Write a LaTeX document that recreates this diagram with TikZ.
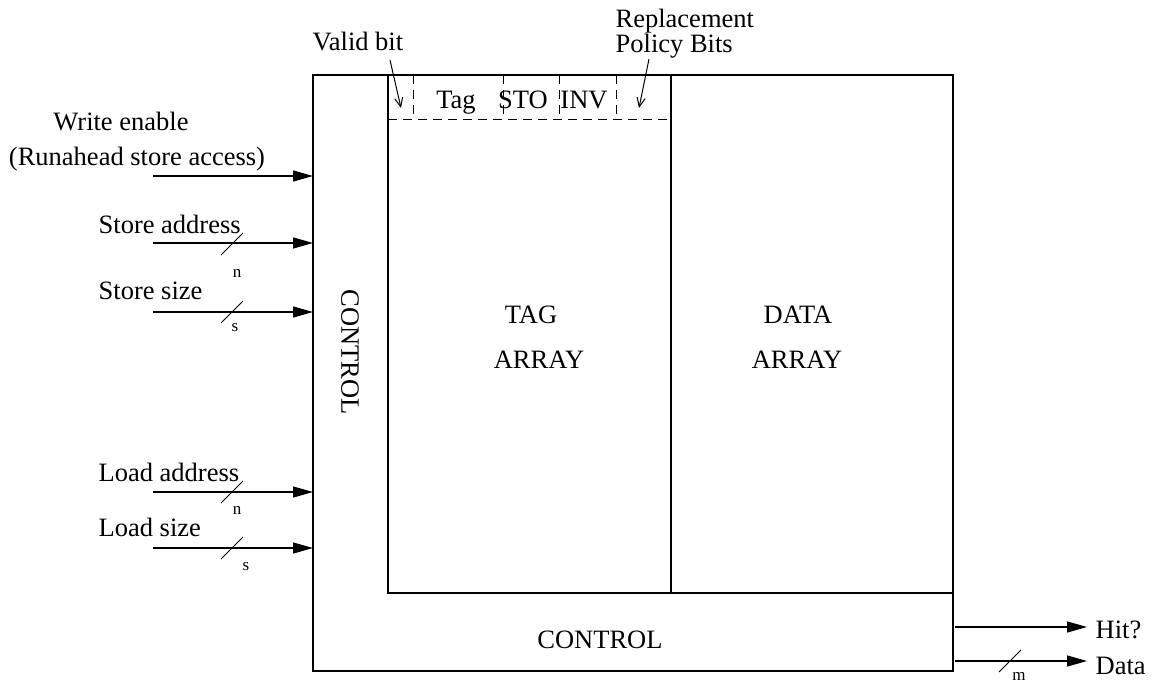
\documentclass[tikz,border=0pt]{standalone}
\usepackage{fontspec}
\setmainfont{Liberation Serif}
\usetikzlibrary{arrows.meta,calc}

\begin{document}
\begin{tikzpicture}[x=1pt,y=-1pt,line width=1.3pt,
  lbl/.style={font=\fontsize{26.5}{28}\selectfont,inner sep=0pt,anchor=base},
  sm/.style={font=\fontsize{17}{18}\selectfont,inner sep=0pt},
  sig/.style={-{Triangle[length=20pt,width=11pt]}},
  tick/.style={line width=1pt},
  ptr/.style={-{Straight Barb[length=9pt,width=8pt]},line width=1pt},
  dsh/.style={dash pattern=on 9pt off 6pt,line width=1pt}]
\useasboundingbox (0,0) rectangle (1154,683);

% cache outline
\node[draw,minimum width=640pt,minimum height=596pt,anchor=north west,
      inner sep=0pt,outer sep=0pt] (box) at (313,75) {};
% tag array / data array partition and bottom control strip
\coordinate (tl) at (388,75);
\coordinate (tc) at (388,593);
\coordinate (dl) at (671,75);
\coordinate (db) at (671,593);
\draw (tl) -- (tc) -- (tc -| box.east);
\draw (dl) -- (db);

% tag entry fields
\draw[dsh] (388,119) -- (671,119);
\foreach \x in {413,503,559,616} \draw[dsh] (\x,75) -- (\x,119);
\node[lbl] (ftag) at (456,108) {Tag};
\node[lbl] (fsto) at (523,108) {STO};
\node[lbl] (finv) at (584,108) {INV};

% field annotations
\node[lbl,anchor=base west] (valid) at (312,50) {Valid bit};
\node[lbl,anchor=base west] (repl1) at (615,27) {Replacement};
\node[lbl,anchor=base west] (repl2) at (615,52) {Policy Bits};
\coordinate (va) at (390,60);
\coordinate (vb) at (401,108);
\coordinate (ra) at (649,59);
\coordinate (rb) at (639,108);
\draw[ptr] (va) -- (vb);
\draw[ptr] (ra) -- (rb);

% block labels
\node[lbl] (tag1) at (531,323) {TAG};
\node[lbl] (tag2) at (539,368) {ARRAY};
\node[lbl] (dat1) at (798,323) {DATA};
\node[lbl] (dat2) at (797,368) {ARRAY};
\node[lbl,anchor=center,rotate=-90] (ctlv) at (350,352) {CONTROL};
\node[lbl] (ctlh) at (600,648) {CONTROL};

% inputs
\node[lbl] (we1) at (121,130) {Write enable};
\node[lbl] (we2) at (137,165) {(Runahead store access)};
\node[lbl,anchor=base west] (sa) at (98,233) {Store address};
\node[lbl,anchor=base west] (ss) at (98,299) {Store size};
\node[lbl,anchor=base west] (la) at (98,481) {Load address};
\node[lbl,anchor=base west] (ls) at (98,536) {Load size};

\coordinate (iwe) at (153,176);
\coordinate (isa) at (153,243);
\coordinate (iss) at (153,312);
\coordinate (ila) at (153,492);
\coordinate (ils) at (153,548);
\foreach \c in {iwe,isa,iss,ila,ils}
  \draw[sig] (\c) -- (\c -| box.west);

% bus width ticks
\foreach \c/\y in {tsa/244,tss/312,tla/492,tls/548}
  \coordinate (\c) at (232,\y);
\foreach \c in {tsa,tss,tla,tls}
  \draw[tick] ($(\c)+(-11,11)$) -- ($(\c)+(11,-11)$);
\node[sm] (wn1) at (237,273) {n};
\node[sm] (ws1) at (235,328) {s};
\node[sm] (wn2) at (237,510) {n};
\node[sm] (ws2) at (246,567) {s};

% outputs
\coordinate (ohit) at (955,627);
\coordinate (odat) at (955,661);
\coordinate (ehit) at (1087,627);
\coordinate (edat) at (1087,661);
\draw[sig] (ohit) -- (ehit);
\draw[sig] (odat) -- (edat);
\coordinate (tdat) at (1010,661);
\draw[tick] ($(tdat)+(-11,11)$) -- ($(tdat)+(11,-11)$);
\node[sm] (wm) at (1019,676) {m};
\node[lbl,anchor=base west] (hit) at (1095,638) {Hit?};
\node[lbl,anchor=base west] (dat) at (1095,674) {Data};
\end{tikzpicture}
\end{document}
